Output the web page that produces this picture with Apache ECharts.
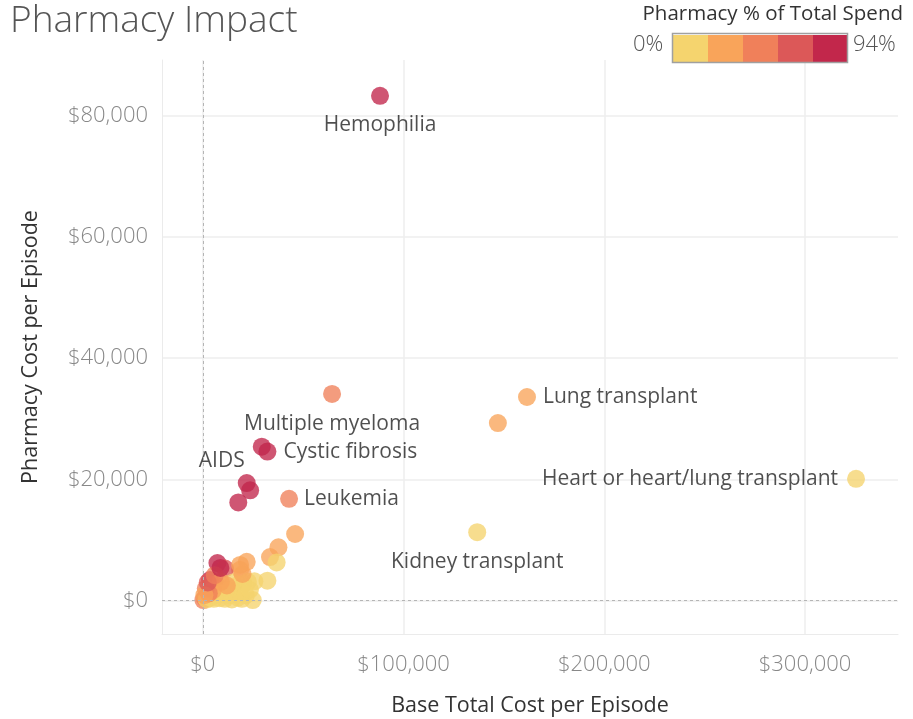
<!DOCTYPE html>
<html>
<head>
<meta charset="utf-8">
<script src="https://cdn.jsdelivr.net/npm/echarts@6/dist/echarts.min.js"></script>
<style>
  html, body { margin: 0; padding: 0; background: #fff; }
  #chart { width: 913px; height: 719px; }
</style>
</head>
<body>
<div id="chart"></div>
<script>
// valores (dólares por episódio)
const episodeNames = [
  "Hemophilia", "Heart or heart/lung transplant", "Lung transplant", "", "Kidney transplant",
  "Multiple myeloma", "", "Cystic fibrosis", "AIDS", "", "", "Leukemia",
  "", "", "", "", "", "", "", "", "", "", "", "", "", "", "", "",
  "", "", "", "", "", "", "", "", "", "", "", "", "", "", "", "",
  "", "", "", "", "", "", "", "", "", "", "", "", "", "", ""
];
const baseCost = [
  88300, 325400, 161500, 147000, 136700,
  64400, 29400, 32200, 21900, 23600, 17700, 43000,
  46000, 37700, 33500, 36800, 21900, 18600, 32200, 25700, 24900, 7300, 11100, 3600, 6100, 10300,
  1100, 300, 2000, 4000, 5500, 7000, 8500, 9500, 11000, 12500, 13500, 14500, 15500, 16500,
  17500, 18500, 19500, 20500, 21500, 22500, 23500, 15000, 12000, 9000, 5000, 3000, 1500, 800,
  2500, 6000, 8800, 19800, 18600
];
const pharmacyCost = [
  83300, 20100, 33600, 29300, 11300,
  34100, 25400, 24600, 19400, 18200, 16200, 16800,
  11000, 8800, 7200, 6300, 6400, 5100, 3300, 3200, 100, 6200, 5300, 3400, 2600, 2000,
  400, 100, 200, 500, 300, 900, 400, 1200, 300, 800, 1800, 200, 1000, 2400,
  500, 1500, 300, 2800, 900, 3100, 1800, 3000, 2500, 3100, 1700, 1200, 2000, 900,
  3000, 4200, 5400, 4400, 5900
];
const pharmacyPct = [
  0.94, 0.06, 0.21, 0.20, 0.08,
  0.53, 0.86, 0.76, 0.89, 0.77, 0.91, 0.39,
  0.24, 0.23, 0.21, 0.17, 0.29, 0.27, 0.10, 0.12, 0.01, 0.85, 0.60, 0.80, 0.45, 0.20,
  0.50, 0.55, 0.08, 0.10, 0.05, 0.12, 0.05, 0.13, 0.03, 0.06, 0.13, 0.02, 0.07, 0.15,
  0.03, 0.08, 0.02, 0.14, 0.04, 0.14, 0.08, 0.17, 0.20, 0.30, 0.35, 0.45, 0.40, 0.35,
  0.70, 0.45, 0.85, 0.24, 0.30
];
const legendBins = [0, 0.188, 0.376, 0.564, 0.752, 0.94];
const legendColors = ["#f5d46e", "#f9a45a", "#f0805a", "#dc5858", "#c2274b"];

const fonte = "'Open Sans', 'Noto Sans', sans-serif";

// posição dos rótulos por nome
const rotulos = {
  "Hemophilia": { position: "bottom", distance: 10 },
  "Heart or heart/lung transplant": { position: "left", distance: 9 },
  "Lung transplant": { position: "right", distance: 7 },
  "Kidney transplant": { position: "bottom", distance: 10 },
  "Multiple myeloma": { position: "bottom", distance: 11 },
  "Cystic fibrosis": { position: "right", distance: 7 },
  "AIDS": { position: "top", distance: 3, offset: [-25, 0] },
  "Leukemia": { position: "right", distance: 6 }
};

const estiloRotulo = { show: true, color: "#1e1e1e", fontSize: 21, fontFamily: fonte };

const pontos = baseCost.map((x, i) => {
  const nome = episodeNames[i];
  const item = { value: [x, pharmacyCost[i], pharmacyPct[i]], name: nome };
  if (nome && rotulos[nome]) {
    item.label = Object.assign({ formatter: nome }, estiloRotulo, rotulos[nome]);
  }
  return item;
});

const formatarDolar = (v) => "$" + Math.round(v).toLocaleString("en-US");

const chart = echarts.init(document.getElementById("chart"));

chart.setOption({
  animation: false,
  textStyle: { fontFamily: fonte },
  grid: { left: 162, right: 15, top: 60, bottom: 85, containLabel: false, outerBoundsMode: "none" },
  title: {
    text: "Pharmacy Impact",
    left: 5,
    top: -2,
    textStyle: { fontSize: 37, fontWeight: 300, color: "#555", fontFamily: fonte }
  },
  xAxis: {
    type: "value",
    min: -20300,
    max: 346300,
    name: "Base Total Cost per Episode",
    nameLocation: "middle",
    nameGap: 61,
    nameTextStyle: { fontSize: 21.5, color: "#333", fontWeight: 500 },
    axisLine: { show: true, onZero: false, lineStyle: { color: "#ebebeb", width: 1 } },
    axisTick: { show: false },
    axisLabel: {
      fontSize: 22,
      fontWeight: 300,
      color: "#888",
      margin: 20,
      showMinLabel: false,
      showMaxLabel: false,
      formatter: (v) => (v % 100000 === 0 ? formatarDolar(v) : "")
    },
    splitLine: { show: true, showMinLine: false, showMaxLine: false, lineStyle: { color: "#eeeeee", width: 1.5 } }
  },
  yAxis: {
    type: "value",
    min: -5500,
    max: 89200,
    name: "Pharmacy Cost per Episode",
    nameLocation: "middle",
    nameGap: 120,
    nameTextStyle: { fontSize: 21.5, color: "#333", fontWeight: 500 },
    axisLine: { show: true, onZero: false, lineStyle: { color: "#ebebeb", width: 1 } },
    axisTick: { show: false },
    axisLabel: {
      fontSize: 22,
      fontWeight: 300,
      color: "#888",
      margin: 14,
      showMinLabel: false,
      showMaxLabel: false,
      formatter: (v) => (v % 20000 === 0 ? formatarDolar(v) : "")
    },
    splitLine: { show: true, showMinLine: false, showMaxLine: false, lineStyle: { color: "#eeeeee", width: 1.5 } }
  },
  visualMap: {
    type: "piecewise",
    dimension: 2,
    orient: "horizontal",
    left: 658,
    top: 20,
    itemWidth: 35,
    itemHeight: 28,
    itemGap: 0,
    itemSymbol: "rect",
    showLabel: false,
    selectedMode: false,
    pieces: legendColors.map((c, i) => ({ min: legendBins[i], max: legendBins[i + 1], color: c }))
  },
  graphic: [
    {
      type: "rect",
      shape: { x: 672.5, y: 33.5, width: 175, height: 29 },
      style: { fill: "none", stroke: "#a0a0a0", lineWidth: 1.5 },
      z: 100
    },
    {
      type: "text",
      right: 10,
      top: 4,
      style: { text: "Pharmacy % of Total Spend", font: "500 20.5px " + fonte, fill: "#333" }
    },
    {
      type: "text",
      left: 633,
      top: 34,
      style: { text: "0%", font: "300 22px " + fonte, fill: "#555" }
    },
    {
      type: "text",
      left: 853,
      top: 34,
      style: { text: "94%", font: "300 22px " + fonte, fill: "#555" }
    }
  ],
  series: [
    {
      type: "scatter",
      data: [],
      z: 1,
      markLine: {
        silent: true,
        symbol: "none",
        label: { show: false },
        lineStyle: { type: [3, 3], color: "#b5b5b5", width: 1 },
        data: [{ xAxis: 0 }, { yAxis: 0 }]
      }
    },
    {
      type: "scatter",
      z: 2,
      symbolSize: 18,
      itemStyle: { opacity: 0.78 },
      label: { show: false },
      emphasis: { disabled: true },
      data: pontos
    }
  ]
});
</script>
</body>
</html>
